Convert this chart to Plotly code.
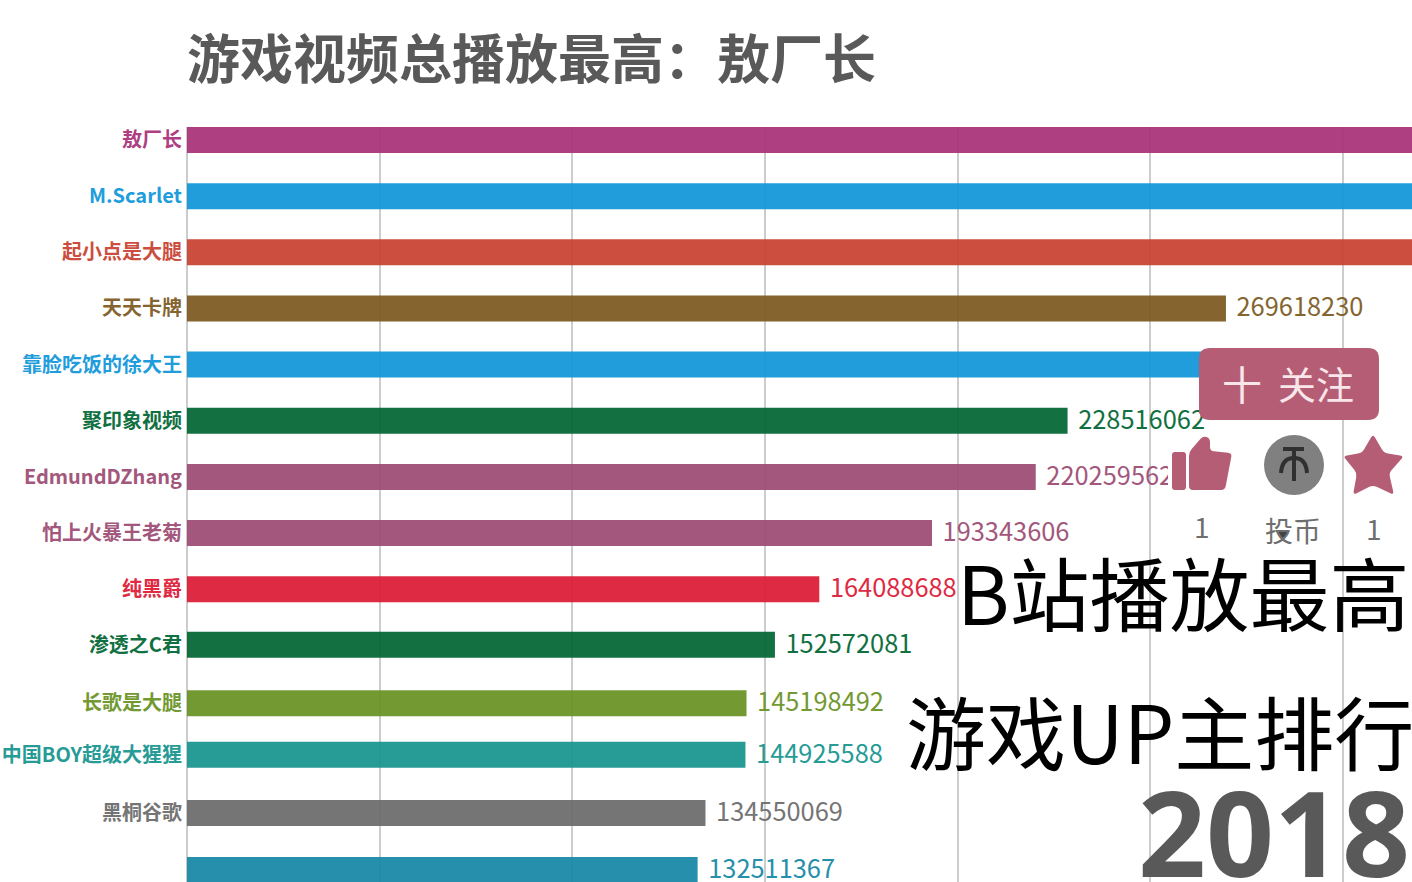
import math
import plotly.graph_objects as go

names = ["敖厂长", "M.Scarlet", "起小点是大腿", "天天卡牌", "靠脸吃饭的徐大王", "聚印象视频", "EdmundDZhang",
         "怕上火暴王老菊", "纯黑爵", "渗透之C君", "长歌是大腿", "中国BOY超级大猩猩", "黑桐谷歌", "星际老男孩"]
values = [395000000, 355000000, 330000000, 269618230, 265000000, 228516062, 220259562,
          193343606, 164088688, 152572081, 145198492, 144925588, 134550069, 132511367]
# the frame is caught mid-animation, so a few ranks are between whole places
ranks = [0, 1, 2, 3, 4, 5, 6, 7, 8, 8.99, 10.03, 10.95, 11.985, 13]
colors = ["#AE3F82", "#219DDC", "#CB4E3E", "#85642F", "#219DDC", "#117041", "#A3577C",
          "#A3577C", "#DE2A42", "#117041", "#739932", "#279B96", "#757575", "#268FAC"]
grid_ticks = [0, 50000000, 100000000, 150000000, 200000000, 250000000, 300000000]
title_text = "游戏视频总播放最高：敖厂长"
first_shown_value = 3

FONT = "Noto Sans CJK SC"
W, H = 1412, 882
L, T = 187, 127
PINK = "#B55D75"
BAR_ALPHA = 0.93
LABEL_LIFT = -0.027


def px(x):
    return (x - L) / (W - L)


def py(y):
    return (H - y) / (H - T)


def see_through(c):
    # bar colour that looks like c once the white page shows through it
    rgb = [int(c[i:i + 2], 16) for i in (1, 3, 5)]
    vals = [max(0, round((v - (1 - BAR_ALPHA) * 255) / BAR_ALPHA)) for v in rgb]
    return f"rgba({vals[0]},{vals[1]},{vals[2]},{BAR_ALPHA})"


def rounded(points, t):
    n = len(points)
    out = []
    for i in range(n):
        p, a, q = points[i - 1], points[i], points[(i + 1) % n]
        def toward(b):
            d = math.hypot(b[0] - a[0], b[1] - a[1])
            s = min(t, d / 2) / d
            return (a[0] + (b[0] - a[0]) * s, a[1] + (b[1] - a[1]) * s)
        s, e = toward(p), toward(q)
        out.append(("M" if i == 0 else "L") + f"{px(s[0]):.5f},{py(s[1]):.5f} "
                   f"Q{px(a[0]):.5f},{py(a[1]):.5f} {px(e[0]):.5f},{py(e[1]):.5f}")
    return " ".join(out) + " Z"


fig = go.Figure(go.Bar(
    x=values, y=ranks, orientation="h", width=0.463,
    marker=dict(color=[see_through(c) for c in colors], line=dict(width=0)),
    hoverinfo="skip",
))
fig.add_trace(go.Scatter(
    x=values[first_shown_value:],
    y=[r - LABEL_LIFT for r in ranks[first_shown_value:]],
    mode="text",
    text=["\u2005\u2006" + str(v) for v in values[first_shown_value:]],
    textposition="middle right",
    cliponaxis=False,
    textfont=dict(family=FONT, size=25.4, color=colors[first_shown_value:]),
    hoverinfo="skip",
))

shapes = []


def shape(points, color, t=3):
    shapes.append(dict(type="path", xref="paper", yref="paper", path=rounded(points, t),
                       fillcolor=color, line=dict(width=0), layer="above"))


# white patch behind thumb icon
shapes.append(dict(type="rect", xref="paper", yref="paper", x0=px(1168), x1=px(1236), y0=py(492), y1=py(436),
                   fillcolor="white", line=dict(width=0), layer="above"))
# follow button
shape([(1199, 348), (1379, 348), (1379, 420), (1199, 420)], PINK, 11)
# thumb
shape([(1172, 452), (1186, 452), (1186, 490), (1172, 490)], PINK, 3)
shape([(1189, 452), (1203, 436), (1210, 438), (1210, 451), (1232, 453), (1225, 490), (1189, 490)], PINK, 4)
# coin
shapes.append(dict(type="circle", xref="paper", yref="paper", x0=px(1264), x1=px(1324), y0=py(495), y1=py(435),
                   fillcolor="#808080", line=dict(width=0), layer="above"))
for seg in ([(1283, 449), (1304, 449)], [(1294, 449), (1294, 481)]):
    shapes.append(dict(type="line", xref="paper", yref="paper", x0=px(seg[0][0]), y0=py(seg[0][1]),
                       x1=px(seg[1][0]), y1=py(seg[1][1]), line=dict(color="#303030", width=4), layer="above"))
shapes.append(dict(type="path", xref="paper", yref="paper",
                   path=f"M{px(1281):.5f},{py(473):.5f} Q{px(1282):.5f},{py(458):.5f} {px(1294):.5f},{py(458):.5f} "
                        f"Q{px(1306):.5f},{py(458):.5f} {px(1307):.5f},{py(473):.5f}",
                   line=dict(color="#303030", width=4), layer="above"))
# star
shape([(1373, 434), (1384, 453), (1404, 456), (1389, 473), (1394, 495), (1373, 485), (1353, 495), (1357, 473), (1343, 456), (1362, 453)], PINK, 4)
# cursor mark
shape([(1278, 532), (1288, 532), (1283, 540)], "#444444", 1)

annotations = []


def label(text, x, y, size, color, anchor="center", bold=False, family=FONT):
    annotations.append(dict(text=f"<b>{text}</b>" if bold else text, xref="paper", yref="paper",
                            x=px(x), y=py(y), xanchor=anchor, yanchor="middle", showarrow=False,
                            font=dict(family=family, size=size, color=color)))


label("十", 1242, 383, 40, "#F8E6EA")
label("关注", 1316, 382, 38, "#F8E6EA")
label("1", 1202, 526, 28, "#6E6E6E")
label("投币", 1293, 530, 28, "#6E6E6E")
label("1", 1374, 528, 28, "#6E6E6E")
label("B站播放最高", 1412, 590, 80, "#000000", "right")
label("游戏UP主排行", 1416, 729, 80, "#000000", "right")
label("2018", 1412, 831, 119, "#595959", "right", True, "Open Sans")

ticktext = [f'<b><span style="color:{c}">{n}</span></b>' for n, c in zip(names, colors)]

fig.update_layout(
    width=W, height=H, margin=dict(l=L, r=0, t=T, b=0, autoexpand=False),
    paper_bgcolor="white", plot_bgcolor="white", showlegend=False,
    title=dict(text=f"<b>{title_text}</b>", x=L / W, xanchor="left", y=1 - 60 / H, yanchor="middle",
               font=dict(family=FONT, size=53, color="#595959")),
    xaxis=dict(range=[0, 317900000], tickvals=grid_ticks, showticklabels=False, ticks="",
               showgrid=True, gridcolor="#CCCCCC", gridwidth=1.5, zeroline=True, zerolinecolor="#CCCCCC",
               zerolinewidth=1.5, showline=False),
    yaxis=dict(range=[13.214, -0.2315], tickmode="array", tickvals=ranks, ticktext=ticktext, ticks="",
               showgrid=False, zeroline=False, showline=False, automargin=False, ticklabelstandoff=4,
               tickfont=dict(family=FONT, size=20)),
    shapes=shapes, annotations=annotations,
)

fig.write_html("out.html", config=dict(displayModeBar=False),
               post_script="document.body.style.margin='0';document.documentElement.style.overflow='hidden';window.dispatchEvent(new Event('resize'));")
